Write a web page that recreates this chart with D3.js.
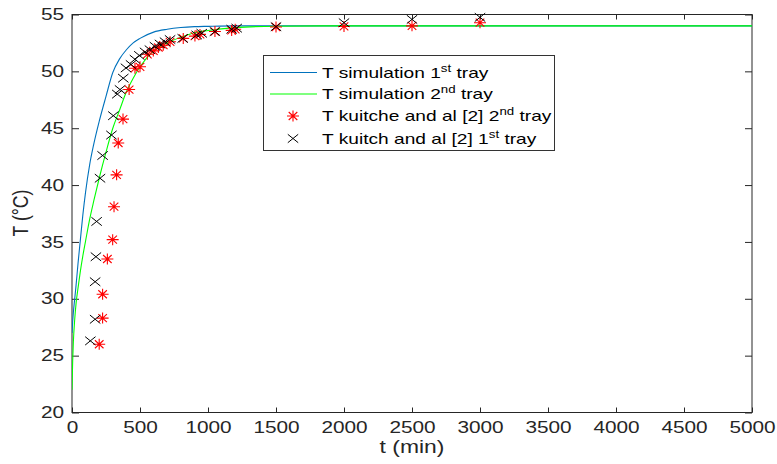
<!DOCTYPE html>
<html lang="en">
<head>
<meta charset="utf-8">
<title>T vs t</title>
<script src="https://d3js.org/d3.v7.min.js"></script>
<style>
  body { margin: 0; padding: 0; background: #fff; }
  svg { display: block; font-family: "Liberation Sans", Arial, sans-serif; }
  .box { fill: none; stroke: #262626; stroke-width: 1; }
  .tick line { stroke: #262626; }
  .tick text { fill: #262626; }
</style>
</head>
<body>
<script>
// simulation
var simTime  = [0, 5, 10, 20, 30, 45, 60, 80, 100, 130, 160, 200, 250, 300, 350, 400, 450, 500, 600, 700, 800, 900, 1000, 1200, 1500, 2000, 5000];
var simTray1 = [27.0, 28.0, 28.8, 30.0, 31.2, 33.2, 35.0, 37.4, 39.4, 41.8, 43.6, 45.6, 47.8, 49.9, 51.1, 51.9, 52.5, 52.9, 53.45, 53.7, 53.85, 53.93, 53.96, 54.0, 54.0, 54.0, 54.0];
var simTray2 = [22.0, 24.5, 26.2, 28.2, 29.6, 31.0, 32.3, 33.8, 35.1, 37.0, 38.6, 40.6, 42.9, 45.0, 46.6, 48.2, 49.4, 50.4, 51.8, 52.5, 53.0, 53.4, 53.6, 53.85, 53.97, 54.0, 54.0];

// Kuitche and al [2], 2nd tray (red stars)
var exp2Time = [200, 225, 225, 260, 299, 309, 328, 340, 375, 420, 463, 500, 554, 598, 635, 671, 721, 818, 904, 941, 1051, 1174, 1200, 1500, 2000, 2500, 3000];
var exp2Temp = [26.0, 28.3, 30.4, 33.5, 35.2, 38.1, 40.9, 43.7, 45.8, 48.4, 50.27, 50.4, 51.5, 51.8, 52.1, 52.3, 52.6, 52.9, 53.1, 53.25, 53.5, 53.6, 53.7, 53.9, 53.95, 54.0, 54.28];

// Kuitche and al [2], 1st tray (black crosses)
var exp1Time = [135, 170, 170, 176, 181, 206, 225, 290, 304, 333, 353, 377, 397, 434, 463, 495, 537, 573, 610, 647, 684, 721, 814, 917, 954, 1051, 1174, 1211, 1500, 2000, 2500, 3000];
var exp1Temp = [26.3, 28.2, 31.5, 33.7, 36.8, 40.6, 42.6, 44.4, 46.1, 48.0, 48.4, 49.4, 50.3, 50.6, 51.06, 51.4, 51.7, 51.9, 52.2, 52.4, 52.6, 52.8, 52.9, 53.2, 53.35, 53.5, 53.7, 53.8, 53.93, 54.28, 54.57, 54.75];

var xTicks = [0, 500, 1000, 1500, 2000, 2500, 3000, 3500, 4000, 4500, 5000];
var yTicks = [20, 25, 30, 35, 40, 45, 50, 55];

var legendLabels = [
  ["T simulation 1", "st", " tray"],
  ["T simulation 2", "nd", " tray"],
  ["T kuitche and al [2] 2", "nd", " tray"],
  ["T kuitch and al [2] 1", "st", " tray"]
];

var width = 777, height = 464;
var pLeft = 72, pRight = 752, pTop = 14.5, pBottom = 412.5;
var sx = 1.3;   // the picture is stretched horizontally

var svg = d3.select("body").append("svg")
    .attr("width", width)
    .attr("height", height);

var x = d3.scaleLinear().domain([0, 5000]).range([pLeft, pRight]);
var y = d3.scaleLinear().domain([20, 55]).range([pBottom, pTop]);

svg.append("clipPath").attr("id", "clip")
  .append("rect").attr("x", pLeft).attr("y", pTop)
  .attr("width", pRight - pLeft).attr("height", pBottom - pTop);

// axes, ticks pointing inwards
var xAxis = svg.append("g")
    .attr("transform", "translate(0," + pBottom + ")")
    .call(d3.axisBottom(x).tickValues(xTicks).tickFormat(d3.format("d"))
      .tickSizeInner(-5).tickSizeOuter(0));
svg.append("g")
    .attr("transform", "translate(0," + pTop + ")")
    .call(d3.axisTop(x).tickValues(xTicks).tickSizeInner(-5).tickSizeOuter(0).tickFormat(""));
var yAxis = svg.append("g")
    .attr("transform", "translate(" + pLeft + ",0)")
    .call(d3.axisLeft(y).tickValues(yTicks).tickFormat(d3.format("d"))
      .tickSizeInner(-7).tickSizeOuter(0));
svg.append("g")
    .attr("transform", "translate(" + pRight + ",0)")
    .call(d3.axisRight(y).tickValues(yTicks).tickSizeInner(-7).tickSizeOuter(0).tickFormat(""));

svg.selectAll(".domain").remove();

xAxis.selectAll("text")
    .attr("font-size", 16)
    .attr("y", 9).attr("dy", "0.71em")
    .attr("transform", "scale(" + sx + ",1)");
yAxis.selectAll("text")
    .attr("font-size", 16)
    .attr("x", -8 / sx)
    .attr("transform", "scale(" + sx + ",1)");
svg.selectAll("g").filter(function() { return this.getAttribute("font-family"); })
    .attr("font-family", null).attr("font-size", null);

svg.append("rect").attr("class", "box")
    .attr("x", pLeft).attr("y", pTop)
    .attr("width", pRight - pLeft).attr("height", pBottom - pTop);

// axis labels
svg.append("text")
    .attr("transform", "translate(412,453) scale(" + sx + ",1)")
    .attr("text-anchor", "middle")
    .attr("font-size", 17.6).attr("fill", "#262626")
    .text("t (min)");
svg.append("text")
    .attr("transform", "translate(28,213) scale(" + sx + ",1) rotate(-90)")
    .attr("text-anchor", "middle")
    .attr("font-size", 17.6).attr("fill", "#262626")
    .text("T (°C)");

// curves
var plot = svg.append("g").attr("clip-path", "url(#clip)");
var line = function(vals) {
  return d3.line()
    .x(function(d, i) { return x(simTime[i]); })
    .y(function(d) { return y(d); })
    .curve(d3.curveMonotoneX)(vals);
};
plot.append("path").attr("d", line(simTray1))
    .attr("fill", "none").attr("stroke", "#0072bd").attr("stroke-width", 1.1);
plot.append("path").attr("d", line(simTray2))
    .attr("fill", "none").attr("stroke", "#00ff00").attr("stroke-width", 1.1);

var starPath = "M-6,0L6,0M0,-5.5L0,5.5M-4.3,-4L4.3,4M-4.3,4L4.3,-4";
var crossPath = "M-5.2,-4.2L5.2,4.2M-5.2,4.2L5.2,-4.2";

svg.append("g").selectAll("path")
    .data(exp2Time)
    .enter().append("path")
    .attr("transform", function(d, i) { return "translate(" + x(d) + "," + y(exp2Temp[i]) + ")"; })
    .attr("d", starPath)
    .attr("fill", "none").attr("stroke", "#ff0000").attr("stroke-width", 1.1);

svg.append("g").selectAll("path")
    .data(exp1Time)
    .enter().append("path")
    .attr("transform", function(d, i) { return "translate(" + x(d) + "," + y(exp1Temp[i]) + ")"; })
    .attr("d", crossPath)
    .attr("fill", "none").attr("stroke", "#000").attr("stroke-width", 1);

// legend
var lg = svg.append("g");
lg.append("rect")
    .attr("x", 263.5).attr("y", 55.5).attr("width", 291).attr("height", 95)
    .attr("fill", "#fff").attr("stroke", "#333").attr("stroke-width", 1);

var rowY = [72.5, 94, 116, 138.5];
lg.append("line").attr("x1", 270).attr("x2", 317).attr("y1", rowY[0]).attr("y2", rowY[0])
    .attr("stroke", "#0072bd").attr("stroke-width", 1.1);
lg.append("line").attr("x1", 270).attr("x2", 317).attr("y1", rowY[1]).attr("y2", rowY[1])
    .attr("stroke", "#00ff00").attr("stroke-width", 1.1);
lg.append("path").attr("d", starPath).attr("transform", "translate(293," + rowY[2] + ")")
    .attr("fill", "none").attr("stroke", "#ff0000").attr("stroke-width", 1.1);
lg.append("path").attr("d", crossPath).attr("transform", "translate(293," + rowY[3] + ")")
    .attr("fill", "none").attr("stroke", "#000").attr("stroke-width", 1);

legendLabels.forEach(function(parts, i) {
  var t = lg.append("text")
      .attr("transform", "translate(322," + (rowY[i] + 5) + ") scale(1.33,1)")
      .attr("font-size", 14.4).attr("fill", "#000");
  t.append("tspan").text(parts[0]);
  t.append("tspan").attr("font-size", 10).attr("dy", -6).text(parts[1]);
  t.append("tspan").attr("dy", 6).text(parts[2]);
});
</script>
</body>
</html>
